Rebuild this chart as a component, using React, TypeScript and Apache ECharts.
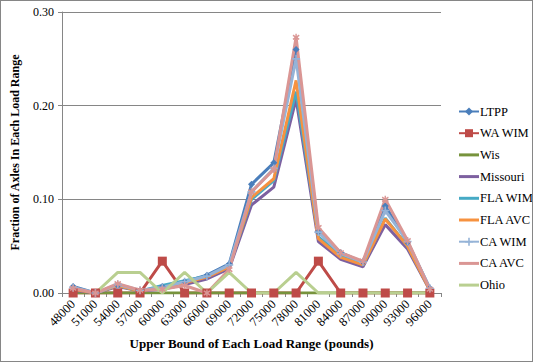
import React, { useEffect, useRef } from "react";
import * as echarts from "echarts";

const categories = ["48000","51000","54000","57000","60000","63000","66000","69000","72000","75000","78000","81000","84000","87000","90000","93000","96000"];
const ltpp =     [0.007, 0, 0.008, 0.002, 0.007, 0.012, 0.019, 0.031, 0.116, 0.139, 0.260, 0.065, 0.043, 0.033, 0.093, 0.054, 0.005];
const waWim =    [0, 0, 0, 0, 0.034, 0, 0, 0, 0, 0, 0, 0.034, 0, 0, 0, 0, 0];
const wis =      [0, 0, 0, 0, 0, 0, 0, 0, 0, 0, 0, 0, 0, 0, 0, 0, 0];
const missouri = [0.003, 0, 0.007, 0.002, 0.004, 0.009, 0.015, 0.026, 0.094, 0.113, 0.207, 0.055, 0.036, 0.028, 0.073, 0.047, 0.003];
const flaWim =   [0.005, 0, 0.008, 0.002, 0.008, 0.013, 0.018, 0.028, 0.100, 0.120, 0.215, 0.060, 0.040, 0.030, 0.080, 0.050, 0.004];
const flaAvc =   [0.004, 0, 0.008, 0.002, 0.006, 0.011, 0.017, 0.028, 0.102, 0.122, 0.227, 0.058, 0.038, 0.030, 0.079, 0.050, 0.003];
const caWim =    [0.006, 0, 0.009, 0.003, 0.006, 0.012, 0.018, 0.030, 0.108, 0.133, 0.250, 0.065, 0.042, 0.033, 0.088, 0.055, 0.005];
const caAvc =    [0.005, 0, 0.010, 0.003, 0.004, 0.008, 0, 0.025, 0.108, 0.132, 0.273, 0.070, 0.043, 0.034, 0.100, 0.056, 0.004];
const ohio =     [null, 0, 0.022, 0.022, 0, 0.022, 0, 0.022, 0, 0, 0.022, 0, 0, 0, 0, 0, 0];

const FONT = "'Times New Roman', 'Liberation Serif', serif";
const LINE_ICON = "path://M0,0 L20,0 L20,3 L0,3 Z";

export default function App() {
  const ref = useRef<HTMLDivElement>(null);
  useEffect(() => {
    document.body.style.margin = "0";
    const chart = echarts.init(ref.current!, null, { renderer: "svg" });
    const mk = (name: string, data: (number | null)[], color: string, symbol: string, symbolSize: number, width = 3) => ({
      name,
      type: "line",
      data,
      symbol,
      symbolSize,
      showSymbol: symbol !== "none",
      connectNulls: false,
      lineStyle: { color, width },
      itemStyle: { color },
      emphasis: { disabled: true },
    });
    const plusPath = "path://M4,0 L6,0 L6,4 L10,4 L10,6 L6,6 L6,10 L4,10 L4,6 L0,6 L0,4 L4,4 Z";
    const starPath = "path://M4,0 L6,0 L6,3 L9,1 L10,3 L7,5 L10,7 L9,9 L6,7 L6,10 L4,10 L4,7 L1,9 L0,7 L3,5 L0,3 L1,1 L4,3 Z";
    chart.setOption({
      animation: false,
      backgroundColor: "#fff",
      textStyle: { fontFamily: FONT },
      grid: { left: 59, right: 91, top: 11, bottom: 68, containLabel: false },
      legend: {
        orient: "vertical",
        left: 452,
        top: 99,
        itemWidth: 20,
        itemHeight: 10,
        itemGap: 8.7,
        textStyle: { fontFamily: FONT, fontSize: 12.5, color: "#000", padding: [0, 0, 0, -4] },
        data: [
          { name: "LTPP" },
          { name: "WA WIM" },
          { name: "Wis", icon: LINE_ICON },
          { name: "Missouri", icon: LINE_ICON },
          { name: "FLA WIM", icon: LINE_ICON },
          { name: "FLA AVC", icon: LINE_ICON },
          { name: "CA WIM" },
          { name: "CA AVC", icon: LINE_ICON },
          { name: "Ohio", icon: LINE_ICON },
        ],
      },
      xAxis: {
        type: "category",
        data: categories,
        boundaryGap: true,
        name: "Upper Bound of Each Load Range (pounds)",
        nameLocation: "middle",
        nameGap: 44,
        nameTextStyle: { fontFamily: FONT, fontSize: 13, fontWeight: "bold", color: "#000" },
        axisLine: { lineStyle: { color: "#868686" } },
        axisTick: { show: true, alignWithLabel: false, length: 4, lineStyle: { color: "#868686" } },
        axisLabel: { rotate: 45, fontFamily: FONT, fontSize: 12.5, color: "#000", margin: 9, interval: 0 },
        splitLine: { show: false },
      },
      yAxis: {
        type: "value",
        min: 0,
        max: 0.3,
        interval: 0.1,
        name: "Fraction of Axles In Each Load Range",
        nameLocation: "middle",
        nameGap: 41,
        nameTextStyle: { fontFamily: FONT, fontSize: 12, fontWeight: "bold", color: "#000" },
        axisLine: { show: true, lineStyle: { color: "#868686" } },
        axisTick: { show: true, length: 4, lineStyle: { color: "#868686" } },
        axisLabel: { fontFamily: FONT, fontSize: 12, color: "#000", formatter: (v: number) => v.toFixed(2) },
        splitLine: { show: true, lineStyle: { color: "#868686", width: 1 } },
      },
      series: [
        mk("LTPP", ltpp, "#4A7EBB", "diamond", 7),
        mk("WA WIM", waWim, "#BE4B48", "rect", 9),
        mk("Wis", wis, "#77933C", "none", 0),
        mk("Missouri", missouri, "#7D60A0", "none", 0),
        mk("FLA WIM", flaWim, "#46AAC5", "none", 0),
        mk("FLA AVC", flaAvc, "#F69240", "none", 0),
        mk("CA WIM", caWim, "#95B3D7", plusPath, 8),
        mk("CA AVC", caAvc, "#DA9694", starPath, 7),
        mk("Ohio", ohio, "#B9CF90", "none", 0),
      ],
    });
    return () => chart.dispose();
  }, []);
  return (
    <div
      ref={ref}
      style={{ position: "fixed", left: 0, top: 0, width: 533, height: 362, boxSizing: "border-box", border: "1px solid #868686" }}
    />
  );
}
